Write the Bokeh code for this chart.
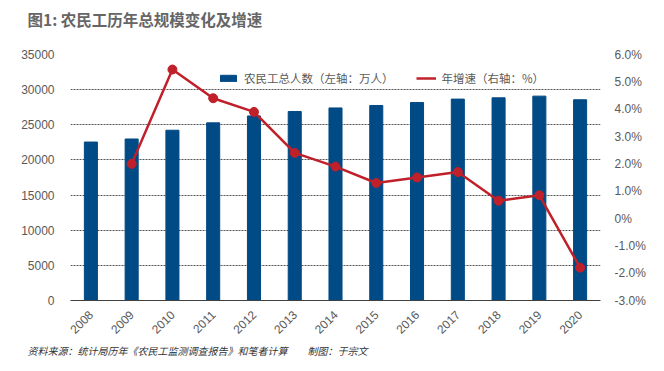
import math
from bokeh.plotting import figure
from bokeh.models import (LinearAxis, Range1d, Title, Legend, LegendItem,
                          CustomJSTickFormatter, SingleIntervalTicker, FixedTicker)
from bokeh.embed import file_html
from bokeh.resources import INLINE

years = ["2008", "2009", "2010", "2011", "2012", "2013", "2014", "2015", "2016", "2017", "2018", "2019", "2020"]
workers = [22542, 22978, 24223, 25278, 26261, 26894, 27395, 27747, 28171, 28652, 28836, 29077, 28560]
growth_years = ["2009", "2010", "2011", "2012", "2013", "2014", "2015", "2016", "2017", "2018", "2019", "2020"]
growth = [2.0, 5.45, 4.4, 3.9, 2.4, 1.9, 1.3, 1.5, 1.7, 0.65, 0.85, -1.8]
rate_ticks = [-3, -2, -1, 0, 1, 2, 3, 4, 5, 6]

CJK = "Noto Sans CJK SC"
NUM = "Liberation Sans"
GRAY = "#595959"
BLUE = "#004a85"
RED = "#c0202a"

p = figure(x_range=years, y_range=Range1d(0, 35000), width=648, height=360,
           output_backend="svg", toolbar_location=None,
           min_border_left=70, min_border_right=45, min_border_top=54, min_border_bottom=60)
p.outline_line_color = None
p.background_fill_color = "white"

p.extra_y_ranges = {"rate": Range1d(-3, 6)}

bars = p.vbar(x=years, top=workers, width=0.32, color=BLUE)
line = p.line(x=growth_years, y=growth, y_range_name="rate", line_color=RED, line_width=2.5)
pts = p.scatter(x=growth_years, y=growth, y_range_name="rate", size=9, color=RED)

# left axis
yl = p.yaxis[0]
yl.ticker = SingleIntervalTicker(interval=5000)
yl.axis_line_color = None
yl.major_tick_line_color = None
yl.minor_tick_line_color = None
yl.major_label_text_color = GRAY
yl.major_label_text_font = NUM
yl.major_label_text_font_size = "12px"
yl.major_label_standoff = 10

# right axis
yr = LinearAxis(y_range_name="rate")
yr.ticker = FixedTicker(ticks=rate_ticks)
yr.formatter = CustomJSTickFormatter(code="return tick == 0 ? '0%' : tick.toFixed(1) + '%';")
yr.axis_line_color = None
yr.major_tick_line_color = None
yr.minor_tick_line_color = None
yr.major_label_text_color = GRAY
yr.major_label_text_font = NUM
yr.major_label_text_font_size = "12px"
yr.major_label_standoff = 8
p.add_layout(yr, "right")

# x axis
xa = p.xaxis[0]
xa.axis_line_color = "#404040"
xa.axis_line_width = 1
xa.major_tick_line_color = None
xa.minor_tick_line_color = None
xa.major_label_orientation = math.pi / 4
xa.major_label_text_color = GRAY
xa.major_label_text_font = NUM
xa.major_label_text_font_size = "12px"
xa.major_label_standoff = 6

p.xgrid.grid_line_color = None
p.ygrid.grid_line_color = "#555555"
p.ygrid.grid_line_dash = "2 1"
p.ygrid.grid_line_width = 1

legend = Legend(items=[LegendItem(label="农民工总人数（左轴：万人）", renderers=[bars]),
                       LegendItem(label="年增速（右轴：%）", renderers=[line])],
                orientation="horizontal", location=(148, 214),
                label_text_font=CJK, label_text_font_size="11.5px", label_text_color=GRAY,
                label_standoff=6,
                glyph_width=20, glyph_height=8, spacing=22, padding=4, margin=0,
                border_line_color=None, background_fill_alpha=0)
p.add_layout(legend, "center")

spacer = Title(text=" ", text_font_size="1px", standoff=18)
p.add_layout(spacer, "above")

title = Title(text="图1: 农民工历年总规模变化及增速", align="left", offset=-43,
              text_font=CJK, text_font_size="15.5px", text_font_style="bold",
              text_color="#666666", standoff=8)
p.add_layout(title, "above")

foot = Title(text="资料来源：统计局历年《农民工监测调查报告》和笔者计算\u3000\u3000制图：于宗文", align="left", offset=-43,
             text_font=CJK, text_font_size="10px", text_font_style="italic",
             text_color="#333333", standoff=0)
p.add_layout(foot, "below")

open("out.html", "w").write(file_html(p, INLINE))
